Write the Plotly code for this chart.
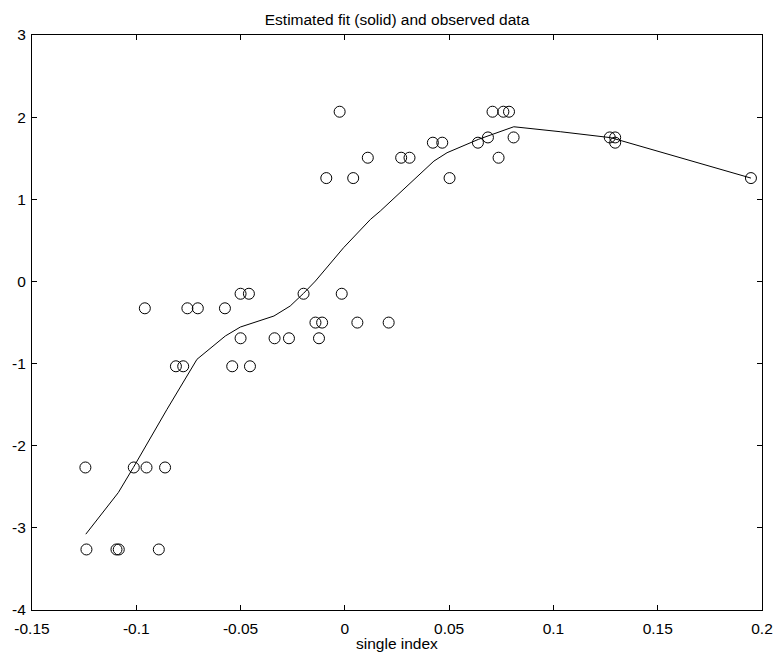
import plotly.graph_objects as go

# observed data
obs_x = [-0.0025, 0.0708, 0.0760, 0.0787,
         0.0686, 0.0809, 0.1270, 0.1296,
         0.0422, 0.0467, 0.0638, 0.1296,
         0.0110, 0.0270, 0.0310, 0.0737,
         -0.0089, 0.0040, 0.0502, 0.1947,
         -0.0500, -0.0460, -0.0198, -0.0015,
         -0.0959, -0.0755, -0.0705, -0.0575,
         -0.0141, -0.0109, 0.0060, 0.0210,
         -0.0500, -0.0337, -0.0268, -0.0124,
         -0.0810, -0.0775, -0.0540, -0.0455,
         -0.1244, -0.1012, -0.0951, -0.0862,
         -0.1239, -0.1095, -0.1084, -0.0892]
obs_y = [2.066, 2.066, 2.066, 2.066,
         1.753, 1.753, 1.753, 1.753,
         1.689, 1.689, 1.689, 1.689,
         1.506, 1.506, 1.506, 1.506,
         1.258, 1.258, 1.258, 1.258,
         -0.150, -0.150, -0.150, -0.150,
         -0.327, -0.327, -0.327, -0.327,
         -0.501, -0.501, -0.501, -0.501,
         -0.692, -0.692, -0.692, -0.692,
         -1.033, -1.033, -1.033, -1.033,
         -2.265, -2.265, -2.265, -2.265,
         -3.263, -3.263, -3.263, -3.263]

# estimated fit
fit_x = [-0.1242, -0.1086, -0.1014, -0.0853, -0.0709, -0.0573, -0.0501, -0.0340,
         -0.0262, -0.0198, -0.0141, -0.0006, 0.0123, 0.0170, 0.0427, 0.0490,
         0.0640, 0.0810, 0.1035, 0.1275, 0.1947]
fit_y = [-3.077, -2.570, -2.265, -1.558, -0.948, -0.664, -0.555, -0.421,
         -0.299, -0.145, 0.005, 0.411, 0.756, 0.857, 1.465, 1.567,
         1.729, 1.883, 1.822, 1.750, 1.258]

x_ticks = [-0.15, -0.1, -0.05, 0, 0.05, 0.1, 0.15, 0.2]
x_tick_text = ["-0.15", "-0.1", "-0.05", "0", "0.05", "0.1", "0.15", "0.2"]
y_ticks = [-4, -3, -2, -1, 0, 1, 2, 3]
y_tick_text = ["-4", "-3", "-2", "-1", "0", "1", "2", "3"]

FONT = "Liberation Sans, Arial, Helvetica"

fig = go.Figure()
fig.add_trace(go.Scatter(x=fit_x, y=fit_y, mode="lines",
                         line=dict(color="black", width=1), showlegend=False))
fig.add_trace(go.Scatter(x=obs_x, y=obs_y, mode="markers",
                         marker=dict(symbol="circle-open", size=11,
                                     color="black", line=dict(width=1)),
                         showlegend=False))

axis_common = dict(showline=True, linecolor="black", linewidth=1, mirror="ticks",
                   ticks="inside", ticklen=5, tickcolor="black", showgrid=False,
                   zeroline=False, automargin=False,
                   tickfont=dict(family=FONT, size=15.5, color="black"))

fig.update_layout(
    width=773, height=652,
    margin=dict(l=32, r=11, t=35, b=42),
    plot_bgcolor="white", paper_bgcolor="white",
    title=dict(text="Estimated fit (solid) and observed data", x=0.5, xanchor="center",
               xref="paper", yref="container", y=1 - 20 / 652, yanchor="middle",
               font=dict(family=FONT, size=15.5, color="black")),
    xaxis=dict(range=[-0.15, 0.2], tickvals=x_ticks, ticktext=x_tick_text,
               ticklabelstandoff=4, **axis_common),
    yaxis=dict(range=[-4, 3], tickvals=y_ticks, ticktext=y_tick_text,
               ticklabelstandoff=2, **axis_common),
    annotations=[dict(text="single index", xref="paper", yref="paper",
                      x=0.5, y=-(643 - 610) / 575, xanchor="center", yanchor="middle",
                      showarrow=False, font=dict(family=FONT, size=15.5, color="black"))],
)

fig.write_html("out.html")
